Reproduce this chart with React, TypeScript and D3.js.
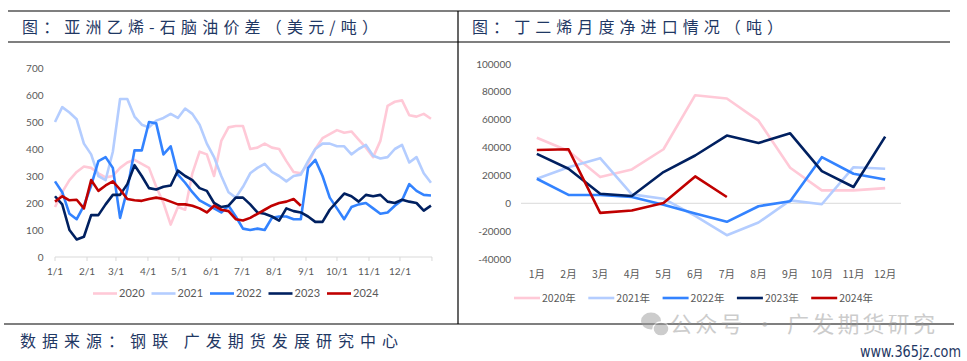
import React from 'react';
import * as d3 from 'd3';

// left chart: weekly samples of the spread (USD/t), one value per week from 1/1
const spread2020 = [185, 240, 285, 315, 335, 330, 310, 295, 300, 330, 350, 360, 345, 330, 260, 200, 120, 185, 175, 310, 390, 380, 300, 430, 480, 485, 485, 400, 405, 420, 405, 400, 355, 315, 310, 345, 400, 440, 455, 470, 460, 465, 435, 405, 370, 430, 560, 575, 580, 525, 520, 530, 512];
const spread2021 = [500, 555, 535, 510, 420, 380, 300, 285, 390, 585, 585, 520, 490, 480, 505, 515, 530, 515, 550, 530, 490, 420, 370, 300, 240, 220, 260, 310, 330, 345, 315, 300, 280, 300, 305, 355, 400, 420, 420, 410, 410, 380, 400, 415, 375, 365, 370, 400, 415, 350, 370, 310, 275];
const spread2022 = [280, 240, 160, 140, 190, 265, 355, 370, 330, 145, 250, 395, 395, 500, 495, 380, 410, 305, 275, 240, 210, 195, 180, 165, 190, 150, 105, 100, 105, 100, 145, 150, 150, 140, 140, 330, 360, 300, 220, 180, 140, 185, 195, 200, 180, 160, 165, 190, 210, 270, 245, 230, 228];
const spread2023 = [225, 195, 100, 65, 75, 155, 155, 195, 230, 230, 270, 340, 300, 255, 250, 260, 265, 320, 300, 285, 255, 245, 200, 185, 190, 220, 220, 195, 165, 160, 150, 135, 180, 170, 165, 150, 130, 130, 175, 205, 235, 225, 205, 230, 225, 230, 205, 200, 212, 205, 200, 172, 190];
const spread2024 = [205, 225, 210, 212, 180, 285, 245, 265, 280, 250, 215, 210, 208, 215, 220, 215, 205, 195, 195, 190, 180, 165, 190, 175, 170, 140, 135, 145, 160, 175, 190, 200, 205, 215, 190];

const monthTicks = ['1/1', '2/1', '3/1', '4/1', '5/1', '6/1', '7/1', '8/1', '9/1', '10/1', '11/1', '12/1'];
const spreadTicks = [0, 100, 200, 300, 400, 500, 600, 700];

// right chart: monthly net imports (t)
const months = ['1月', '2月', '3月', '4月', '5月', '6月', '7月', '8月', '9月', '10月', '11月', '12月'];
const imp2020 = [47000, 37500, 18800, 24300, 38800, 77600, 75200, 59300, 25500, 9300, 9300, 10900];
const imp2021 = [17600, 25900, 32400, 6400, 3300, -9000, -22900, -13800, 2100, -700, 25900, 24800];
const imp2022 = [17600, 6000, 6000, 4500, -1000, -7400, -13300, -2100, 1400, 33100, 21200, 17100];
const imp2023 = [35500, 24800, 6900, 5200, 22400, 34300, 48600, 43300, 50200, 23100, 11700, 47900];
const imp2024 = [38300, 38800, -6900, -5200, 200, 19300, 4500];
const importTicks = [-40000, -20000, 0, 20000, 40000, 60000, 80000, 100000];

const years = ['2020', '2021', '2022', '2023', '2024'];
const colors = ['#FFC9D7', '#B4CDFF', '#3383FF', '#002060', '#C00000'];

const W = 967;
const H = 361;
const titleColor = '#1F3864';
const axisColor = '#595959';
const cjk = '"Noto Sans CJK SC", sans-serif';
const latin = 'Lato, "Noto Sans", sans-serif';

const App: React.FC = () => {
  // ---- left chart scales
  const x1 = d3.scaleTime()
    .domain([new Date(2021, 0, 1), new Date(2022, 0, 1)])
    .range([55, 432]);
  const y1 = d3.scaleLinear().domain([0, 700]).range([257, 68]);
  const weekDate = (i: number) => d3.timeDay.offset(new Date(2021, 0, 1), i * 7);
  const line1 = d3.line<number>()
    .x((_, i) => x1(weekDate(i)))
    .y((d) => y1(d));
  const spreads = [spread2020, spread2021, spread2022, spread2023, spread2024];
  const monthStarts = d3.timeMonth.range(new Date(2021, 0, 1), new Date(2022, 0, 1));

  // ---- right chart scales
  const x2 = d3.scaleBand<string>().domain(months).range([521, 901]);
  const y2 = d3.scaleLinear().domain([-40000, 100000]).range([259, 64]);
  const line2 = d3.line<number>()
    .x((_, i) => x2(months[i])! + x2.bandwidth() / 2)
    .y((d) => y2(d));
  const imports = [imp2020, imp2021, imp2022, imp2023, imp2024];

  return (
    <svg width={W} height={H} style={{ position: 'absolute', left: 0, top: 0, background: '#fff' }}>
      {/* frame lines */}
      <line x1={8} x2={950} y1={11} y2={11} stroke="#000" strokeWidth={1.2} />
      <line x1={8} x2={950} y1={42} y2={42} stroke="#000" strokeWidth={1.2} />
      <line x1={458} x2={458} y1={11} y2={324} stroke="#000" strokeWidth={1.2} />
      <line x1={4} x2={954} y1={324} y2={324} stroke="#000" strokeWidth={1.2} />

      <text x={22} y={33} fontSize={16} fill={titleColor} fontFamily={cjk}
        textLength={356} lengthAdjust="spacing">图：亚洲乙烯-石脑油价差（美元/吨）</text>
      <text x={472} y={33} fontSize={16} fill={titleColor} fontFamily={cjk}
        textLength={311} lengthAdjust="spacing">图：丁二烯月度净进口情况（吨）</text>

      {/* left chart */}
      <g>
        {spreadTicks.map((t) => (
          <text key={t} x={43.5} y={y1(t)} dy="0.35em" textAnchor="end" fontSize={10}
            fill={axisColor} fontFamily={latin}>{t}</text>
        ))}
        <line x1={55} x2={432} y1={257} y2={257} stroke="#D9D9D9" strokeWidth={1} />
        {[...monthStarts, new Date(2021, 11, 31, 23)].map((d, i) => (
          <line key={i} x1={x1(d)} x2={x1(d)} y1={257} y2={261} stroke="#D9D9D9" strokeWidth={1} />
        ))}
        {monthStarts.map((d, i) => (
          <text key={i} x={x1(d)} y={275} textAnchor="middle" fontSize={10}
            fill={axisColor} fontFamily={latin}>{monthTicks[i]}</text>
        ))}
        {spreads.map((s, i) => (
          <path key={i} d={line1(s)!} fill="none" stroke={colors[i]} strokeWidth={2.6}
            strokeLinejoin="round" />
        ))}
        {years.map((yr, i) => (
          <g key={yr} transform={`translate(${93 + i * 58.5},293.5)`}>
            <line x1={0} x2={24} stroke={colors[i]} strokeWidth={2.6} />
            <text x={26} dy="0.35em" fontSize={11} fill={axisColor} fontFamily={latin}>{yr}</text>
          </g>
        ))}
      </g>

      {/* right chart */}
      <g>
        {importTicks.map((t) => (
          <text key={t} x={511} y={y2(t)} dy="0.35em" textAnchor="end" fontSize={10}
            fill={axisColor} fontFamily={latin}>{t}</text>
        ))}
        <line x1={521} x2={901} y1={y2(0)} y2={y2(0)} stroke="#D9D9D9" strokeWidth={1} />
        {months.map((m) => (
          <text key={m} x={x2(m)! + x2.bandwidth() / 2} y={278} textAnchor="middle" fontSize={10.5}
            fill={axisColor} fontFamily={cjk}>{m}</text>
        ))}
        {imports.map((s, i) => (
          <path key={i} d={line2(s)!} fill="none" stroke={colors[i]} strokeWidth={2.6}
            strokeLinejoin="round" />
        ))}
        {years.map((yr, i) => (
          <g key={yr} transform={`translate(${514 + i * 74.3},298)`}>
            <line x1={0} x2={26} stroke={colors[i]} strokeWidth={2.6} />
            <text x={28} dy="0.35em" fontSize={10.5} fill={axisColor} fontFamily={cjk}>{yr}年</text>
          </g>
        ))}
      </g>

      {/* footer */}
      <text x={20} y={347} fontSize={16} fill={titleColor} fontFamily={cjk}
        textLength={378} lengthAdjust="spacing">数据来源：钢联 广发期货发展研究中心</text>

      {/* watermark */}
      <g opacity={0.5} fill="#9a9a9a">
        <ellipse cx={651} cy={321} rx={10} ry={8.5} />
        <ellipse cx={661} cy={329} rx={8} ry={7} stroke="#fff" strokeWidth={1.5} />
        <text x={670} y={332} fontSize={22} fontFamily={cjk} textLength={265}
          lengthAdjust="spacing">公众号 · 广发期货研究</text>
      </g>
      <text x={860} y={357} fontSize={15} fill={titleColor} fontFamily='"Liberation Sans Narrow", "DejaVu Sans Condensed", sans-serif'
        textLength={101} lengthAdjust="spacingAndGlyphs">www.365jz.com</text>
    </svg>
  );
};

export default App;
